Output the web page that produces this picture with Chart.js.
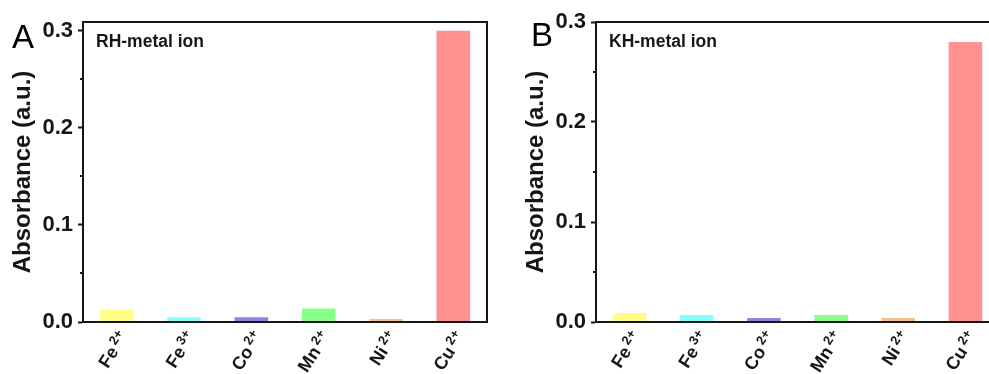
<!DOCTYPE html>
<html><head><meta charset="utf-8">
<script src="https://cdn.jsdelivr.net/npm/chart.js@4/dist/chart.umd.min.js"></script>
<style>
html,body{margin:0;padding:0;width:989px;height:374px;overflow:hidden;background:#fff;}
.wrap{position:absolute;top:0;height:374px;}
#wa{left:0;width:491px;}
#wb{left:513px;width:490px;}
.letter{position:absolute;font-family:"Liberation Sans",Arial,sans-serif;font-size:33px;color:#000;line-height:1;}
</style></head><body>
<div class="wrap" id="wa"><canvas id="ca" width="491" height="374"></canvas></div>
<div class="wrap" id="wb"><canvas id="cb" width="490" height="374"></canvas></div>
<div class="letter" style="left:12px;top:20px">A</div>
<div class="letter" style="left:531px;top:18px">B</div>
<script>
const ionNames = ['Fe', 'Fe', 'Co', 'Mn', 'Ni', 'Cu'];
const ionCharges = ['2+', '3+', '2+', '2+', '2+', '2+'];
const categories = ionNames.map((n, i) => n + ionCharges[i]);
const rhValues = [0.013, 0.005, 0.005, 0.014, 0.003, 0.300];
const khValues = [0.009, 0.007, 0.004, 0.007, 0.004, 0.280];
const majorTicks = [0, 0.1, 0.2, 0.3];
const minorTicks = [0.05, 0.15, 0.25];
const rhMax = 0.309;
const khMax = 0.3;
const barColors = ['#ffff88','#88ffff','#8888e0','#88ff88','#f4c08c','#ff9191'];

const FAMILY = '"Liberation Sans", Arial, "DejaVu Sans", sans-serif';
const INK = '#161616';
const ANGLE = 57 * Math.PI / 180;

const framePlugin = {
  id: 'frame',
  afterDraw(chart, args, opts) {
    const {ctx, chartArea: a} = chart;
    const y = chart.scales.y;
    const x = chart.scales.x;
    ctx.save();
    ctx.strokeStyle = INK;
    ctx.lineWidth = 2;
    ctx.strokeRect(a.left, a.top, a.right - a.left, a.bottom - a.top);
    minorTicks.forEach(v => {
      const py = Math.round(y.getPixelForValue(v));
      ctx.beginPath(); ctx.moveTo(a.left - 3, py); ctx.lineTo(a.left, py); ctx.stroke();
    });
    ctx.fillStyle = INK;
    ctx.font = 'bold 17.5px ' + FAMILY;
    ctx.textBaseline = 'alphabetic';
    ctx.textAlign = 'left';
    ctx.fillText(opts.label, a.left + 13, a.top + 25);

    // rotated category labels with superscript charges
    categories.forEach((c, i) => {
      const px = x.getPixelForTick(i);
      ctx.save();
      ctx.translate(px + 8, a.bottom + 12);
      ctx.rotate(-ANGLE);
      ctx.textBaseline = 'middle';
      ctx.textAlign = 'right';
      ctx.font = 'bold 13px ' + FAMILY;
      const supW = ctx.measureText(ionCharges[i]).width;
      ctx.fillText(ionCharges[i], 0, -5);
      ctx.font = 'bold 18px ' + FAMILY;
      ctx.fillText(ionNames[i], -(supW + 3), 0);
      ctx.restore();
    });
    ctx.restore();
  }
};

function makeChart(id, values, yMax, label) {
  return new Chart(document.getElementById(id), {
    type: 'bar',
    data: {
      labels: categories,
      datasets: [{ data: values, backgroundColor: barColors, borderWidth: 0, barPercentage: 0.5, categoryPercentage: 1.0 }]
    },
    options: {
      responsive: false,
      animation: false,
      layout: { padding: { top: 22, right: 4, bottom: 0, left: 0 } },
      plugins: { legend: { display: false }, tooltip: { enabled: false }, frame: { label: label } },
      scales: {
        x: {
          afterFit: s => { s.height = 52; },
          border: { display: true, color: INK, width: 2 },
          grid: { display: false, drawTicks: false },
          ticks: { display: false, autoSkip: false }
        },
        y: {
          min: 0, max: yMax,
          afterBuildTicks: s => { s.ticks = majorTicks.map(v => ({ value: v })); },
          afterFit: s => { s.width = 83; },
          border: { display: true, color: INK, width: 2 },
          grid: { drawOnChartArea: false, drawTicks: true, tickLength: 5, tickWidth: 2, tickColor: INK },
          ticks: { padding: 5, color: INK, font: { family: FAMILY, size: 22, weight: 'bold' },
                   callback: v => Number(v).toFixed(1) },
          title: { display: true, text: 'Absorbance (a.u.)', color: INK,
                   font: { family: FAMILY, size: 24, weight: 'bold' }, padding: { top: 9, bottom: 0 } }
        }
      }
    },
    plugins: [framePlugin]
  });
}

makeChart('ca', rhValues, rhMax, 'RH-metal ion');
makeChart('cb', khValues, khMax, 'KH-metal ion');
</script>
</body></html>
